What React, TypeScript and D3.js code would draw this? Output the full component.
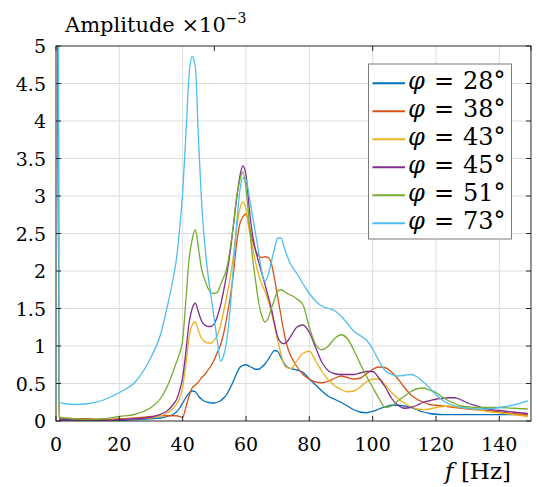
import React from 'react';
import * as d3 from 'd3';

const freq = [0, 1, 3, 6, 10, 15, 20, 25, 30, 33, 35, 37, 38, 39,
  40, 41, 42, 43, 44, 45, 46, 47, 48, 49,
  50, 51, 52, 53, 54, 55, 56, 57, 58, 59,
  60, 61, 62, 63, 64, 65, 66, 67, 68, 69,
  70, 71, 72, 73, 74, 75, 76,
  78, 80, 82, 84, 86, 88,
  90, 92, 94, 96, 98, 100, 102, 104, 106, 108, 110, 112, 114, 116, 118, 120, 122, 124, 126, 128, 130,
  133, 136, 140, 144, 149];

const phi28 = [20, 0.01, 0.01, 0.01, 0.01, 0.01, 0.01, 0.02, 0.03, 0.04, 0.06, 0.09, 0.12, 0.17,
  0.24, 0.31, 0.37, 0.40, 0.39, 0.33, 0.29, 0.26, 0.25, 0.24,
  0.24, 0.25, 0.27, 0.31, 0.36, 0.44, 0.53, 0.63, 0.71, 0.74,
  0.75, 0.73, 0.71, 0.69, 0.69, 0.72, 0.76, 0.82, 0.89, 0.94,
  0.93, 0.85, 0.77, 0.72, 0.70, 0.69, 0.68,
  0.65, 0.56, 0.48, 0.40, 0.33, 0.29,
  0.25, 0.20, 0.15, 0.12, 0.11, 0.13, 0.16, 0.19, 0.21, 0.21, 0.20, 0.18, 0.15, 0.12, 0.10, 0.09, 0.085, 0.085, 0.085, 0.085, 0.085,
  0.085, 0.085, 0.085, 0.085, 0.085];

const phi38 = [20, 0.03, 0.03, 0.03, 0.03, 0.02, 0.03, 0.04, 0.06, 0.07, 0.07, 0.07, 0.07, 0.06,
  0.05, 0.18, 0.33, 0.44, 0.48, 0.52, 0.58, 0.62, 0.68, 0.74,
  0.82, 0.92, 1.02, 1.18, 1.40, 1.65, 1.95, 2.35, 2.62, 2.72,
  2.76, 2.60, 2.42, 2.28, 2.20, 2.18, 2.19, 2.18, 2.10, 1.90,
  1.65, 1.42, 1.18, 1.00, 0.88, 0.80, 0.73,
  0.62, 0.56, 0.52, 0.51, 0.53, 0.57,
  0.60, 0.58, 0.56, 0.57, 0.63, 0.69, 0.72, 0.71, 0.65, 0.56, 0.45, 0.35, 0.29, 0.25, 0.22, 0.21, 0.20, 0.19, 0.18, 0.17, 0.16,
  0.15, 0.14, 0.12, 0.10, 0.08];

const phi43 = [20, 0.02, 0.02, 0.01, 0.01, 0.01, 0.02, 0.03, 0.04, 0.07, 0.10, 0.17, 0.22, 0.30,
  0.45, 0.75, 1.10, 1.28, 1.32, 1.20, 1.10, 1.06, 1.04, 1.04,
  1.08, 1.15, 1.28, 1.47, 1.68, 1.90, 2.20, 2.55, 2.82, 2.92,
  2.82, 2.55, 2.33, 2.12, 1.95, 1.82, 1.73, 1.60, 1.45, 1.27,
  1.08, 0.90, 0.75, 0.71, 0.70, 0.73, 0.80,
  0.90, 0.93, 0.80, 0.66, 0.55, 0.47,
  0.42, 0.39, 0.40, 0.45, 0.52, 0.56, 0.56, 0.48, 0.38, 0.30, 0.24, 0.19, 0.16, 0.15, 0.16, 0.18, 0.19, 0.20, 0.19, 0.18, 0.17,
  0.15, 0.13, 0.11, 0.09, 0.06];

const phi45 = [20, 0.02, 0.02, 0.01, 0.01, 0.01, 0.02, 0.03, 0.05, 0.09, 0.13, 0.22, 0.28, 0.40,
  0.58, 0.92, 1.30, 1.50, 1.57, 1.45, 1.33, 1.28, 1.26, 1.26,
  1.30, 1.40, 1.55, 1.75, 1.98, 2.25, 2.60, 2.95, 3.25, 3.40,
  3.28, 2.85, 2.50, 2.28, 2.12, 1.97, 1.82, 1.66, 1.50, 1.30,
  1.12, 1.05, 1.03, 1.06, 1.12, 1.19, 1.25,
  1.28, 1.18, 0.98, 0.78, 0.67, 0.63,
  0.62, 0.62, 0.62, 0.64, 0.66, 0.66, 0.57, 0.45, 0.30, 0.21, 0.17, 0.18, 0.21, 0.25, 0.27, 0.29, 0.30, 0.31, 0.31, 0.28, 0.24,
  0.20, 0.16, 0.14, 0.12, 0.10];

const phi51 = [20, 0.05, 0.04, 0.03, 0.02, 0.03, 0.06, 0.09, 0.18, 0.30, 0.45, 0.66, 0.78, 0.90,
  1.08, 1.60, 2.15, 2.42, 2.55, 2.30, 2.02, 1.88, 1.77, 1.71,
  1.70, 1.72, 1.82, 1.92, 2.05, 2.30, 2.60, 2.98, 3.20, 3.32,
  3.10, 2.65, 2.20, 1.88, 1.58, 1.40, 1.32, 1.37, 1.50, 1.62,
  1.73, 1.75, 1.73, 1.70, 1.68, 1.66, 1.63,
  1.55, 1.25, 1.02, 0.95, 1.00, 1.10,
  1.15, 1.10, 0.95, 0.77, 0.60, 0.45, 0.30, 0.18, 0.20, 0.27, 0.33, 0.39, 0.43, 0.44, 0.41, 0.38, 0.32, 0.27, 0.23, 0.20, 0.19,
  0.18, 0.18, 0.18, 0.17, 0.16];

const phi73 = [20, 0.25, 0.23, 0.22, 0.23, 0.28, 0.38, 0.52, 0.85, 1.15, 1.50, 1.90, 2.15, 2.55,
  3.05, 3.80, 4.60, 4.86, 4.72, 3.75, 2.90, 2.35, 1.95, 1.65,
  1.35, 1.05, 0.80, 0.88, 1.10, 1.50, 2.05, 2.60, 3.05, 3.24,
  3.22, 3.00, 2.75, 2.50, 2.25, 1.98, 1.86, 1.95, 2.12, 2.30,
  2.44, 2.44, 2.32, 2.20, 2.10, 2.03, 1.97,
  1.83, 1.70, 1.60, 1.53, 1.50, 1.47,
  1.40, 1.30, 1.20, 1.14, 1.08, 0.96, 0.80, 0.67, 0.62, 0.60, 0.61, 0.62, 0.59, 0.52, 0.44, 0.35, 0.28, 0.23, 0.20, 0.18, 0.17,
  0.16, 0.16, 0.18, 0.21, 0.27];

const seriesAngles = ['28', '38', '43', '45', '51', '73'];
const seriesColors = ['#0072BD', '#D95319', '#EDB120', '#7E2F8E', '#77AC30', '#4DBEEE'];
const seriesValues = [phi28, phi38, phi43, phi45, phi51, phi73];

const xTicks = [0, 20, 40, 60, 80, 100, 120, 140];
const xTopTicks = [0, 50, 100, 150];
const yTicks = [0, 0.5, 1, 1.5, 2, 2.5, 3, 3.5, 4, 4.5, 5];
const yTickLabels = ['0', '0.5', '1', '1.5', '2', '2.5', '3', '3.5', '4', '4.5', '5'];

const FONT = "'DejaVu Serif', serif";

export default function App() {
  const W = 542, H = 487;
  const L = 56, R = 531, T = 46, B = 421;
  const x = d3.scaleLinear().domain([0, 150]).range([L, R]);
  const y = d3.scaleLinear().domain([0, 5]).range([B, T]);
  const axisColor = '#262626';
  const gridColor = '#dedede';

  const makeLine = (vals: number[]) =>
    d3.line<number>()
      .x((_, i) => x(freq[i]))
      .y((d) => y(d))
      .curve(d3.curveMonotoneX)(vals) || '';

  const legX = 368.5, legY = 64, legW = 143, legH = 175;
  const rowY = (i: number) => 83.3 + i * 28;

  return (
    <svg width={W} height={H} style={{ position: 'absolute', left: 0, top: 0, background: '#fff', fontFamily: FONT }}>
      <rect x={0} y={0} width={W} height={H} fill="#fff" />
      <defs>
        <clipPath id="plotclip">
          <rect x={L} y={T} width={R - L} height={B - T} />
        </clipPath>
      </defs>
      {xTicks.filter(t => t > 0).map(t => (
        <line key={'gx' + t} x1={x(t)} x2={x(t)} y1={T} y2={B} stroke={gridColor} strokeWidth={1} />
      ))}
      {yTicks.filter(t => t > 0 && t < 5).map(t => (
        <line key={'gy' + t} x1={L} x2={R} y1={y(t)} y2={y(t)} stroke={gridColor} strokeWidth={1} />
      ))}
      <g clipPath="url(#plotclip)">
        {seriesValues.map((vals, i) => (
          <path key={'s' + i} d={makeLine(vals)} fill="none" stroke={seriesColors[i]} strokeWidth={1.3}
            strokeLinejoin="round" />
        ))}
      </g>
      <rect x={L} y={T} width={R - L} height={B - T} fill="none" stroke={axisColor} strokeWidth={1} />
      {xTicks.map(t => (
        <line key={'tb' + t} x1={x(t)} x2={x(t)} y1={B} y2={B - 5} stroke={axisColor} strokeWidth={1} />
      ))}
      {xTopTicks.map(t => (
        <line key={'tt' + t} x1={x(t)} x2={x(t)} y1={T} y2={T + 5} stroke={axisColor} strokeWidth={1} />
      ))}
      {yTicks.map(t => (
        <g key={'ty' + t}>
          <line x1={L} x2={L + 5} y1={y(t)} y2={y(t)} stroke={axisColor} strokeWidth={1} />
          <line x1={R} x2={R - 5} y1={y(t)} y2={y(t)} stroke={axisColor} strokeWidth={1} />
        </g>
      ))}
      {xTicks.map(t => (
        <text key={'lx' + t} x={x(t)} y={450.5} textAnchor="middle" fontSize={19} fill="#000">{t}</text>
      ))}
      {yTicks.map((t, i) => (
        <text key={'ly' + t} x={46} y={y(t) + 7} textAnchor="end" fontSize={19} fill="#000">{yTickLabels[i]}</text>
      ))}
      <text x={65} y={32} fontSize={21} fill="#000">
        Amplitude ×10<tspan fontSize={14} dy={-9}>−3</tspan>
      </text>
      <text x={511} y={479} textAnchor="end" fontSize={23} fill="#000">
        <tspan fontStyle="italic">f</tspan>{'\u00A0'}[Hz]
      </text>
      <rect x={legX} y={legY} width={legW} height={legH} fill="#fff" stroke="#7a7a7a" strokeWidth={1} />
      {seriesAngles.map((a, i) => (
        <g key={'lg' + i}>
          <line x1={372.5} x2={405} y1={rowY(i)} y2={rowY(i)} stroke={seriesColors[i]} strokeWidth={2} />
          <text x={408} y={rowY(i) + 5.5} fontSize={24} fill="#000" fontStyle="italic">φ</text>
          <text x={434} y={rowY(i) + 5.5} fontSize={24} fill="#000">=</text>
          <text x={463} y={rowY(i) + 5.5} fontSize={24} fill="#000">{a}°</text>
        </g>
      ))}
    </svg>
  );
}
